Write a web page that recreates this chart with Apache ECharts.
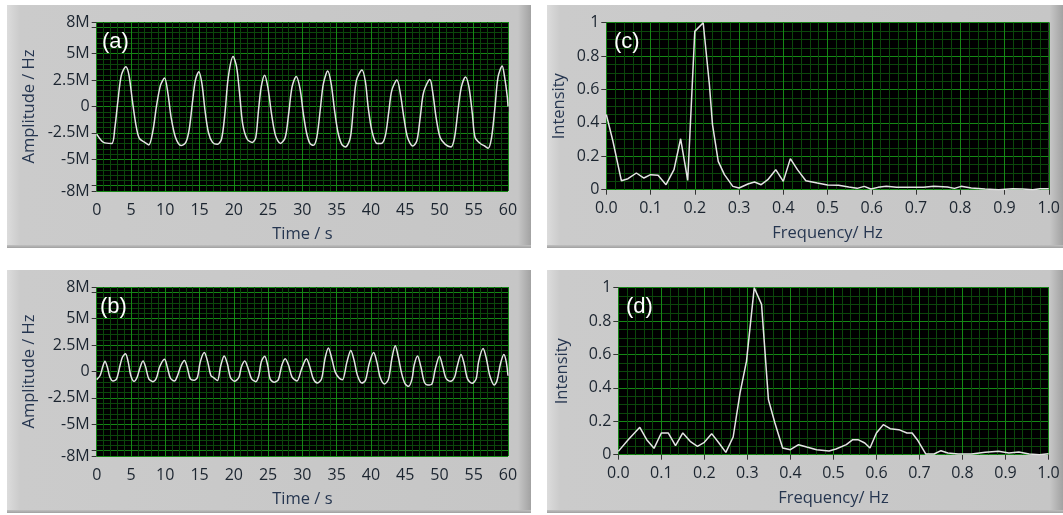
<!DOCTYPE html>
<html><head><meta charset="utf-8">
<script src="https://cdn.jsdelivr.net/npm/echarts@6/dist/echarts.min.js"></script>
<style>html,body{margin:0;padding:0;background:#fff}#c{width:1063px;height:515px}</style>
</head><body><div id="c"></div>
<script>
// ---- panel (a): time signal, amplitude in M(Hz)
const timeA = [
 0, 1.0, 2.2,
 2.65, 3.1, 3.6, 4.25, 4.7, 5.2, 5.7, 6.2, 7.0, 7.6,
 8.2, 8.7, 9.3, 9.9, 10.4, 10.85, 11.5, 12.3, 13.0,
 13.5, 14.0, 14.4, 14.9, 15.35, 15.8, 16.3, 16.9, 17.6, 18.2,
 18.7, 19.2, 19.9, 20.4, 20.85, 21.3, 21.96, 22.7, 23.2,
 23.6, 24.0, 24.5, 25.0, 25.5, 26.1, 26.8, 27.5,
 28.0, 28.5, 29.1, 29.66, 30.15, 30.6, 31.1, 31.6, 32.1,
 32.6, 33.07, 33.7, 34.2, 34.7, 35.2, 35.75, 36.3, 37.0,
 37.45, 37.9, 38.7, 39.2, 39.6, 40.2, 40.9, 41.5, 42.1,
 42.6, 43.05, 43.8, 44.3, 44.8, 45.35, 46.1, 46.7,
 47.2, 47.7, 48.6, 49.05, 49.5, 50.1, 50.85, 51.7, 52.2,
 52.7, 53.2, 53.8, 54.3, 54.8, 55.2, 55.95, 56.6, 57.1, 57.6,
 58.1, 58.55, 59.15, 59.5, 59.9, 60
];
const ampA = [
 -2.62, -3.4, -3.5,
 -2.0, 0.57, 2.97, 3.77, 3.0, 0.57, -1.66, -3.0, -3.4, -3.64,
 -2.3, -0.06, 2.0, 2.7, 1.2, -1.0, -2.94, -3.7, -3.4,
 -2.14, 0.57, 2.5, 3.3, 2.17, -0.38, -2.46, -3.4, -3.58, -3.1,
 -0.7, 2.8, 4.73, 3.77, 1.2, -1.66, -3.1, -3.4, -2.94,
 -0.38, 1.85, 2.97, 1.7, -0.7, -2.78, -3.5, -2.94,
 -0.7, 1.85, 2.85, 1.7, -0.7, -2.46, -3.5, -3.67, -2.94,
 -0.38, 2.17, 3.35, 2.17, -0.38, -2.46, -3.58, -3.83, -2.94,
 -0.06, 2.5, 3.45, 2.33, -0.06, -2.46, -3.5, -3.5, -2.78,
 -0.54, 1.53, 2.5, 1.2, -1.0, -2.94, -3.74, -3.26,
 -1.0, 1.37, 2.55, 1.2, -1.0, -2.94, -3.58, -3.83, -2.94,
 -0.38, 1.85, 2.8, 1.85, -0.7, -2.94, -3.5, -3.74, -3.96, -2.94,
 -0.06, 2.8, 3.83, 2.8, 0.9, 0.0
];
// ---- panel (b)
const timeB = [
 0, 0.5, 0.87, 1.2, 1.55, 1.93, 2.4, 2.9,
 3.4, 3.76, 4.2, 4.6, 4.97, 5.45, 5.9,
 6.27, 6.76, 7.14, 7.6, 8.2, 8.7,
 9.17, 9.9, 10.3, 10.76, 11.34, 11.8,
 12.3, 12.8, 13.2, 13.66, 14.2, 14.7,
 15.1, 15.7, 16.2, 16.65, 17.1, 17.6,
 18.1, 18.6, 19.06, 19.5, 20.1, 20.75,
 21.1, 21.6, 22.1, 22.6, 23.2, 23.65,
 24.0, 24.5, 24.95, 25.3, 25.9, 26.5,
 27.0, 27.5, 28.0, 28.5, 29.2,
 29.9, 30.6, 31.1, 31.6, 32.2, 32.8,
 33.3, 33.8, 34.3, 34.8, 35.4, 35.85,
 36.5, 37.07, 37.55, 38.04, 38.67, 39.2,
 39.75, 40.4, 40.87, 41.35, 42.0, 42.57,
 43.06, 43.55, 44.0, 44.5, 45.0, 45.5, 46.0,
 46.3, 46.8, 47.3, 47.8, 48.3, 48.9,
 49.4, 50.0, 50.5, 50.95, 51.6, 52.2,
 52.56, 53.15, 53.6, 54.1, 54.75, 55.35,
 55.7, 56.36, 56.85, 57.34, 58.0, 58.4,
 58.9, 59.4, 59.75, 60
];
const ampB = [
 -0.77, -0.38, 0.42, 0.96, 0.42, -0.54, -0.9, -0.7,
 0.57, 1.37, 1.69, 0.89, -0.38, -0.93, -0.54,
 0.26, 0.99, 0.42, -0.7, -0.96, -0.64,
 0.42, 1.15, 0.42, -0.64, -0.9, -0.38,
 0.57, 1.05, 0.42, -0.7, -0.83, -0.54,
 0.89, 1.79, 0.89, -0.38, -0.6, -0.86,
 0.57, 1.47, 0.73, -0.54, -0.93, -0.54,
 0.42, 0.99, 0.26, -0.7, -0.96, -0.38,
 0.89, 1.44, 0.57, -0.7, -1.02, -0.77,
 0.57, 1.21, 0.57, -0.54, -0.9,
 0.26, 1.21, 0.42, -0.7, -1.09, -0.7,
 1.21, 2.23, 1.21, -0.06, -0.64, -0.77,
 0.89, 2.0, 1.05, -0.38, -1.09, -0.86,
 0.73, 1.79, 0.89, -0.54, -1.18, -0.7,
 1.21, 2.43, 1.37, -0.22, -1.18, -1.4, -0.7,
 0.57, 1.47, 0.42, -1.02, -1.28, -1.18,
 0.26, 1.44, 0.42, -0.64, -0.93, -0.54,
 0.42, 1.6, 0.73, -0.7, -1.12, -0.7,
 0.89, 2.17, 1.21, -0.38, -1.28, -0.86,
 0.73, 1.6, 0.89, -0.4
];
// ---- panel (c): spectrum
const freqC = [0,0.015,0.034,0.049,0.068,0.085,0.1,0.117,0.135,0.153,0.168,0.184,0.2,0.219,0.233,0.24,0.253,0.267,0.286,0.3,0.32,0.335,0.35,0.365,0.383,0.4,0.416,0.432,0.451,0.477,0.5,0.525,0.548,0.567,0.583,0.598,0.614,0.633,0.656,0.687,0.717,0.74,0.771,0.787,0.802,0.825,0.856,0.887,0.918,0.941,0.964,0.98,1.0];
const intC = [0.45,0.29,0.054,0.066,0.10,0.07,0.09,0.086,0.03,0.12,0.305,0.056,0.948,1.0,0.63,0.39,0.17,0.09,0.02,0.01,0.034,0.046,0.03,0.06,0.12,0.05,0.186,0.12,0.054,0.04,0.028,0.026,0.016,0.008,0.02,0.004,0.014,0.02,0.014,0.014,0.014,0.02,0.016,0.008,0.02,0.01,0.004,0,0.006,0.004,0,0.006,0.006];
// ---- panel (d)
const freqD = [0,0.023,0.05,0.066,0.083,0.1,0.116,0.133,0.15,0.167,0.184,0.2,0.217,0.234,0.25,0.267,0.283,0.298,0.316,0.333,0.349,0.364,0.382,0.4,0.419,0.438,0.461,0.49,0.506,0.53,0.545,0.557,0.573,0.585,0.6,0.616,0.632,0.652,0.671,0.683,0.695,0.715,0.734,0.75,0.766,0.79,0.821,0.853,0.884,0.908,0.931,0.955,0.979,1.0];
const intD = [0.02,0.09,0.164,0.09,0.038,0.13,0.13,0.054,0.13,0.08,0.05,0.074,0.126,0.07,0.014,0.106,0.37,0.56,1.0,0.9,0.33,0.19,0.04,0.03,0.06,0.046,0.03,0.022,0.034,0.06,0.09,0.09,0.07,0.04,0.13,0.18,0.156,0.15,0.13,0.13,0.09,0.004,0.004,0.024,0.01,0.004,0.004,0.014,0.02,0.01,0.016,0.004,0,0.006];
// ---- tick labels / marks
const ampLabelValues = [-8, -5, -2.5, 0, 2.5, 5, 8];
const ampTickValues = [-8, -7.5, -5, -2.5, 0, 2.5, 5, 7.5, 8];
const ampMinorValues = [];
for (let v = -7.5; v <= 7.5001; v += 0.5) ampMinorValues.push(Math.round(v * 10) / 10);
const panelLetters = ['(a)', '(c)', '(b)', '(d)'];

const FONT = 'Open Sans';
const LBL = '#1c2530';
const NAME = '#263650';
const MAJOR = '#158815';
const MINOR = '#0b470b';
const LINE = '#e4e4e4';

const grids = [
  {left: 96.7, top: 22, width: 411.3, height: 169},
  {left: 606.3, top: 22.7, width: 442.7, height: 167},
  {left: 96.7, top: 287, width: 411.3, height: 169},
  {left: 618.3, top: 287.7, width: 430.2, height: 167}
].map(g => Object.assign(g, {show: true, backgroundColor: '#000', borderWidth: 0}));

const hidden = {axisLine: {show: false}, axisTick: {show: false}, axisLabel: {show: false}};
const xAxes = [], yAxes = [], series = [];

function addTimePanel(g, t, a) {
  xAxes.push(Object.assign({type: 'value', gridIndex: g, position: 'top', min: 0, max: 60, interval: 1,
    splitLine: {show: true, lineStyle: {color: MINOR, width: 1}}}, hidden));
  xAxes.push({type: 'value', gridIndex: g, position: 'bottom', min: 0, max: 60, interval: 5,
    axisLine: {show: false},
    axisTick: {show: true, length: 5, lineStyle: {color: '#333'}},
    axisLabel: {color: LBL, fontSize: 16, fontFamily: FONT, margin: 11},
    splitLine: {show: true, lineStyle: {color: MAJOR, width: 1}},
    name: 'Time / s', nameLocation: 'middle', nameGap: 35,
    nameTextStyle: {color: NAME, fontSize: 16.5, fontFamily: FONT}});
  yAxes.push({type: 'value', gridIndex: g, position: 'right', min: -8, max: 8,
    axisLine: {show: false}, axisLabel: {show: false},
    axisTick: {show: false, customValues: ampMinorValues},
    splitLine: {show: true, lineStyle: {color: MINOR, width: 1}}});
  yAxes.push({type: 'value', gridIndex: g, position: 'left', min: -8, max: 8,
    axisLine: {show: false},
    axisTick: {show: true, length: 5, customValues: ampTickValues, lineStyle: {color: '#333'}},
    axisLabel: {color: LBL, fontSize: 16, fontFamily: FONT, margin: 7,
      customValues: ampLabelValues, formatter: v => v === 0 ? '0' : v + 'M'},
    splitLine: {show: true, lineStyle: {color: MAJOR, width: 1}},
    name: 'Amplitude / Hz', nameLocation: 'middle', nameGap: 59,
    nameTextStyle: {color: NAME, fontSize: 16.5, fontFamily: FONT}});
  const idx = xAxes.length - 1;
  series.push({type: 'line', xAxisIndex: idx, yAxisIndex: idx, symbol: 'none',
    smooth: 0.3, lineStyle: {color: LINE, width: 1.5},
    data: t.map((x, i) => [x, a[i]])});
}
function addFreqPanel(g, f, v, gap) {
  xAxes.push(Object.assign({type: 'value', gridIndex: g, position: 'top', min: 0, max: 1, interval: 0.02,
    splitLine: {show: true, lineStyle: {color: MINOR, width: 1}}}, hidden));
  xAxes.push({type: 'value', gridIndex: g, position: 'bottom', min: 0, max: 1, interval: 0.1,
    axisLine: {show: false},
    axisTick: {show: true, length: 5, lineStyle: {color: '#333'}},
    axisLabel: {color: LBL, fontSize: 16, fontFamily: FONT, margin: 11, formatter: x => x.toFixed(1)},
    splitLine: {show: true, lineStyle: {color: MAJOR, width: 1}},
    name: 'Frequency/ Hz', nameLocation: 'middle', nameGap: 35,
    nameTextStyle: {color: NAME, fontSize: 16.5, fontFamily: FONT}});
  yAxes.push(Object.assign({type: 'value', gridIndex: g, position: 'right', min: 0, max: 1, interval: 0.05,
    splitLine: {show: true, lineStyle: {color: MINOR, width: 1}}}, hidden));
  yAxes.push({type: 'value', gridIndex: g, position: 'left', min: 0, max: 1, interval: 0.2,
    axisLine: {show: false},
    axisTick: {show: true, length: 5, lineStyle: {color: '#333'}},
    axisLabel: {color: LBL, fontSize: 16, fontFamily: FONT, margin: 7},
    splitLine: {show: true, lineStyle: {color: MAJOR, width: 1}},
    name: 'Intensity', nameLocation: 'middle', nameGap: gap,
    nameTextStyle: {color: NAME, fontSize: 16.5, fontFamily: FONT}});
  const idx = xAxes.length - 1;
  series.push({type: 'line', xAxisIndex: idx, yAxisIndex: idx, symbol: 'none',
    lineStyle: {color: LINE, width: 1.5},
    data: f.map((x, i) => [x, v[i]])});
}
addTimePanel(0, timeA, ampA);
addFreqPanel(1, freqC, intC, 39);
addTimePanel(2, timeB, ampB);
addFreqPanel(3, freqD, intD, 48);

const boxes = [[7, 5, 524, 243], [547, 5, 516, 243], [7, 270, 524, 243], [547, 270, 516, 243]];
const graphic = [];
boxes.forEach(([x, y, w, h]) => {
  graphic.push({type: 'rect', z: -10, shape: {x, y, width: w, height: h},
    style: {fill: new echarts.graphic.LinearGradient(0, 0, 1, 0, [
      {offset: 0, color: '#dcdcdc'}, {offset: 13 / w, color: '#cbcbcb'},
      {offset: 1 - 13 / w, color: '#c6c6c6'}, {offset: 1, color: '#a2a2a2'}])}});
  graphic.push({type: 'rect', z: -9, shape: {x, y: y + h - 3, width: w, height: 3},
    style: {fill: new echarts.graphic.LinearGradient(0, 0, 0, 1, [
      {offset: 0, color: '#c0c0c0'}, {offset: 1, color: '#a0a0a0'}])}});
});
const letterPos = [[102, 31], [614, 31], [100, 296], [626, 296]];
letterPos.forEach(([x, y], i) => {
  graphic.push({type: 'text', z: 100, x, y,
    style: {text: panelLetters[i], fill: '#fff', font: '22px "Liberation Sans", Arial, sans-serif',
      verticalAlign: 'top', align: 'left'}});
});

const chart = echarts.init(document.getElementById('c'));
chart.setOption({
  animation: false,
  backgroundColor: '#fff',
  grid: grids,
  xAxis: xAxes,
  yAxis: yAxes,
  series,
  graphic
});
</script>
</body></html>
